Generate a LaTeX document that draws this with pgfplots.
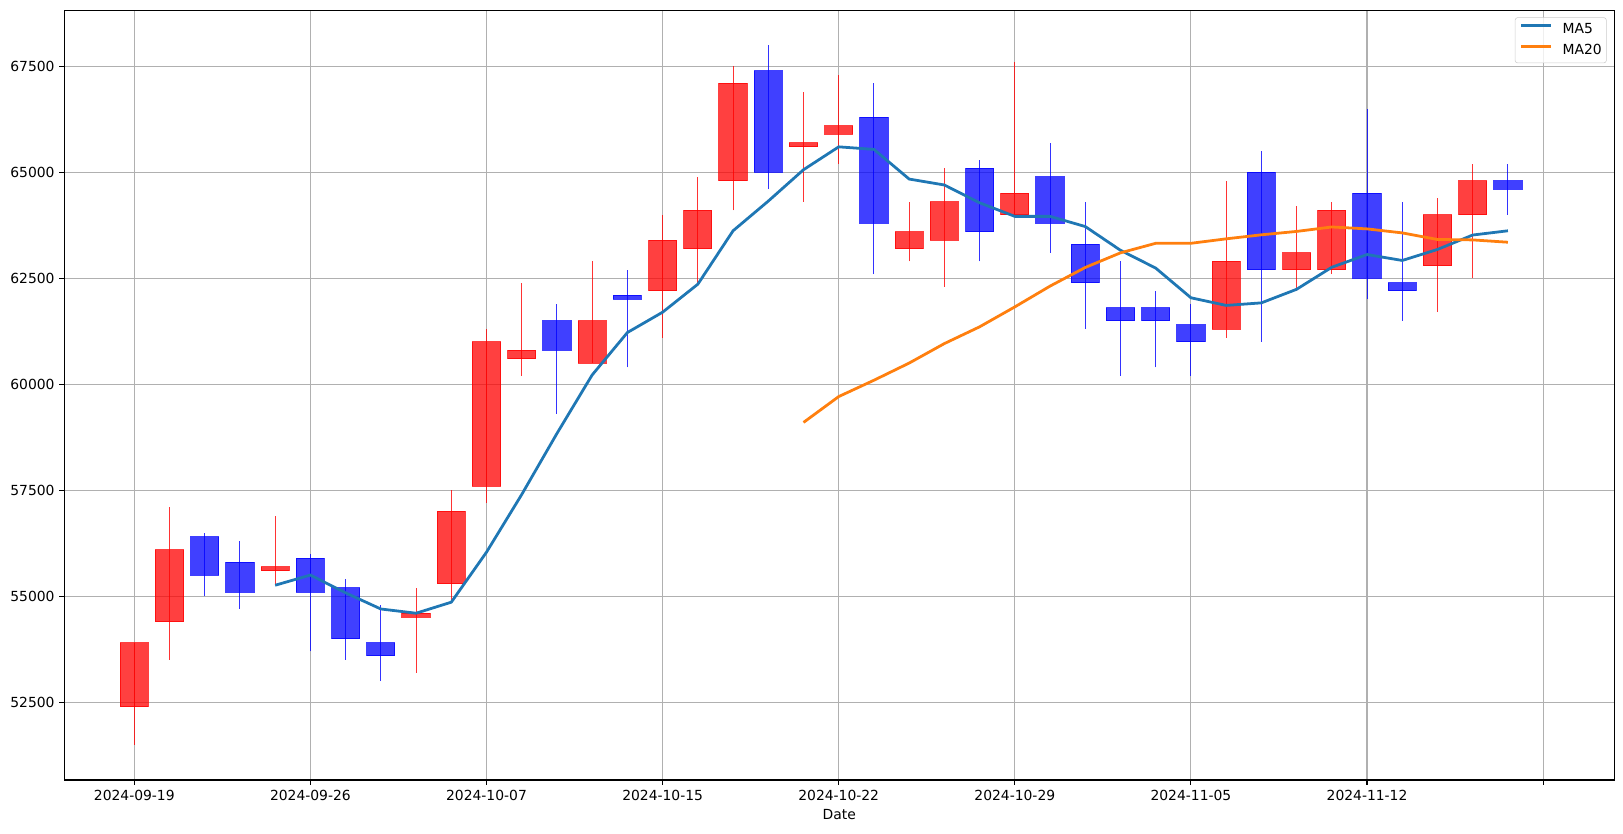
\documentclass[border=0pt]{standalone}
\usepackage{fontspec}
\setmainfont{DejaVu Sans}
\usepackage{pgfplots}
\usepackage{pgfplotstable}
\pgfplotsset{compat=1.18}

\definecolor{mplblue}{HTML}{1F77B4}
\definecolor{mplorange}{HTML}{FF7F0E}
\definecolor{gridgray}{HTML}{B0B0B0}

% one row per trading day: wick low/high, body bottom/top, 1 = up (red)
\pgfplotstableread{
x low high bot top up
0 51500 53900 52400 53900 1
1 53500 57100 54400 56100 1
2 55000 56500 55500 56400 0
3 54700 56300 55100 55800 0
4 55300 56900 55600 55700 1
5 53700 56000 55100 55900 0
6 53500 55400 54000 55200 0
7 53000 54800 53600 53900 0
8 53200 55200 54500 54600 1
9 54900 57500 55300 57000 1
10 57200 61300 57600 61000 1
11 60200 62400 60600 60800 1
12 59300 61900 60800 61500 0
13 60500 62900 60500 61500 1
14 60400 62700 62000 62100 0
15 61100 64000 62200 63400 1
16 62400 64900 63200 64100 1
17 64100 67500 64800 67100 1
18 64600 68000 65000 67400 0
19 64300 66900 65600 65700 1
20 65200 67300 65900 66100 1
21 62600 67100 63800 66300 0
22 62900 64300 63200 63600 1
23 62300 65100 63400 64300 1
24 62900 65300 63600 65100 0
25 64000 67600 64000 64500 1
26 63100 65700 63800 64900 0
27 61300 64300 62400 63300 0
28 60200 62900 61500 61800 0
29 60400 62200 61500 61800 0
30 60200 61900 61000 61400 0
31 61100 64800 61300 62900 1
32 61000 65500 62700 65000 0
33 62200 64200 62700 63100 1
34 62600 64300 62700 64100 1
35 62000 66500 62500 64500 0
36 61500 64300 62200 62400 0
37 61700 64400 62800 64000 1
38 62500 65200 64000 64800 1
39 64000 65200 64600 64800 0
}\candles

\pgfplotsset{
  candle1/.style={draw=red, fill=red, draw opacity=0.75, fill opacity=0.75, line width=0.72pt},
  candle0/.style={draw=blue, fill=blue, draw opacity=0.75, fill opacity=0.75, line width=0.72pt},
  wick1/.style={draw=red, draw opacity=0.8, line width=0.72pt},
  wick0/.style={draw=blue, draw opacity=0.8, line width=0.72pt},
}

\begin{document}
\begin{tikzpicture}
\begin{axis}[
  name=ax,
  scale only axis,
  width=1116pt, height=554.2pt,
  xmin=-1.987, xmax=42.02,
  ymin=50667, ymax=68821,
  xtick={0,5,...,40},
  xticklabels={2024-09-19,2024-09-26,2024-10-07,2024-10-15,2024-10-22,2024-10-29,2024-11-05,2024-11-12,{}},
  ytick={52500,55000,...,67500},
  scaled y ticks=false,
  yticklabel style={/pgf/number format/1000 sep={}, /pgf/number format/assume math mode=true},
  tick align=outside, tick pos=left,
  major tick length=3.5pt,
  tick style={black, line width=0.8pt},
  axis line style={line width=0.8pt},
  grid=major,
  major grid style={gridgray, line width=0.8pt},
  xlabel={Date},
  font=\fontsize{10}{12}\selectfont,
  legend style={at={(axis description cs:0.9951,0.9909)}, anchor=north east,
    draw=black!20, rounded corners=2pt, fill=white, fill opacity=0.8, text opacity=1,
    font=\fontsize{10}{12}\selectfont,
    nodes={inner sep=0pt, text height=7.3pt, text depth=1.5pt},
    row sep=6.3pt, column sep=7.2pt, inner xsep=3.4pt, inner ysep=4.4pt},
  legend cell align=left,
  legend image code/.code={\draw[#1] (0pt,3.2pt) -- (21.6pt,3.2pt);},
]

\pgfplotsinvokeforeach{0,...,39}{
  \pgfplotstablegetelem{#1}{low}\of\candles \let\lw\pgfplotsretval
  \pgfplotstablegetelem{#1}{high}\of\candles \let\hw\pgfplotsretval
  \pgfplotstablegetelem{#1}{bot}\of\candles \let\bt\pgfplotsretval
  \pgfplotstablegetelem{#1}{top}\of\candles \let\tp\pgfplotsretval
  \pgfplotstablegetelem{#1}{up}\of\candles \let\up\pgfplotsretval
  \pgfmathsetmacro\xl{#1-0.4}
  \pgfmathsetmacro\xr{#1+0.4}
  \edef\next{%
    \noexpand\addplot[wick\up, forget plot] coordinates {(#1,\lw) (#1,\hw)};
    \noexpand\addplot[candle\up, forget plot] coordinates
      {(\xl,\bt) (\xr,\bt) (\xr,\tp) (\xl,\tp)} -- cycle;
  }\next
}

\addplot[mplblue, line width=2pt] coordinates {
(4,55260) (5,55500) (6,55080) (7,54700) (8,54600) (9,54860) (10,56040)
(11,57400) (12,58840) (13,60220) (14,61220) (15,61700) (16,62360) (17,63620)
(18,64320) (19,65060) (20,65600) (21,65540) (22,64840) (23,64700) (24,64280)
(25,63960) (26,63960) (27,63720) (28,63160) (29,62740) (30,62040) (31,61860)
(32,61920) (33,62240) (34,62760) (35,63060) (36,62920) (37,63180) (38,63520)
(39,63620)};
\addlegendentry{MA5}

\addplot[mplorange, line width=2pt] coordinates {
(19,59100) (20,59710) (21,60095) (22,60500) (23,60960) (24,61355) (25,61825)
(26,62315) (27,62755) (28,63100) (29,63325) (30,63325) (31,63430) (32,63525)
(33,63605) (34,63710) (35,63665) (36,63570) (37,63415) (38,63405) (39,63350)};
\addlegendentry{MA20}

\end{axis}
\pgfresetboundingbox
\useasboundingbox (-46.3pt,-38.2pt) rectangle (1122.3pt,561.6pt);
\end{tikzpicture}
\end{document}
